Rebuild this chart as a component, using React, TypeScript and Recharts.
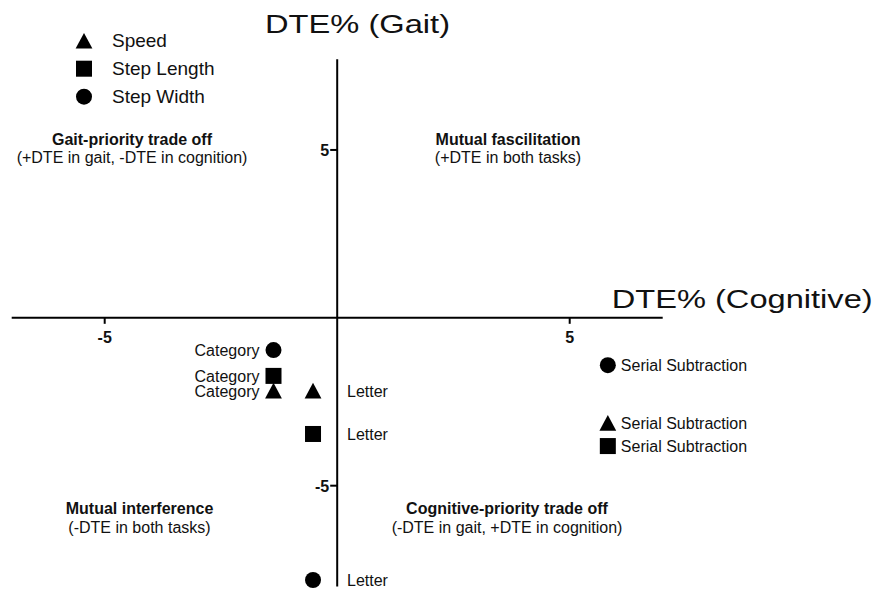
import React from 'react';
import { ScatterChart, Scatter, XAxis, YAxis, ReferenceLine, ReferenceDot } from 'recharts';

// cognitive DTE is the same for every gait measure of a task
const conditions = ['Category', 'Letter', 'Serial Subtraction'];
const cognitiveDTE = [-1.37, -0.52, 5.82];
const speedDTE = [-2.17, -2.17, -3.13];
const stepLengthDTE = [-1.73, -3.46, -3.82];
const stepWidthDTE = [-0.96, -7.81, -1.41];

const xTicks = [-5, 5];
const yTicks = [-5, 5];

const measures = [
  { name: 'Speed', marker: 'triangle', values: speedDTE },
  { name: 'Step Length', marker: 'square', values: stepLengthDTE },
  { name: 'Step Width', marker: 'circle', values: stepWidthDTE },
];

const quadrants = [
  { title: 'Gait-priority trade off', note: '(+DTE in gait, -DTE in cognition)', x: 132, y: 144.5 },
  { title: 'Mutual fascilitation', note: '(+DTE in both tasks)', x: 508, y: 144.5 },
  { title: 'Mutual interference', note: '(-DTE in both tasks)', x: 139.5, y: 514 },
  { title: 'Cognitive-priority trade off', note: '(-DTE in gait, +DTE in cognition)', x: 507, y: 514 },
];

const FONT = '"Liberation Sans", Arial, Helvetica, sans-serif';

// where each task's point label sits relative to the marker
const labelPlace: Record<string, { dx: number; anchor: 'start' | 'end' }> = {
  Category: { dx: -14, anchor: 'end' },
  Letter: { dx: 34, anchor: 'start' },
  'Serial Subtraction': { dx: 13, anchor: 'start' },
};

const Marker = ({ kind, cx, cy }: { kind: string; cx: number; cy: number }) => {
  const h = 8;
  if (kind === 'circle') return <circle cx={cx} cy={cy} r={h} fill="#000" />;
  if (kind === 'square') return <rect x={cx - h} y={cy - h} width={2 * h} height={2 * h} fill="#000" />;
  return <polygon points={`${cx},${cy - 7.8} ${cx + 8.4},${cy + 7.8} ${cx - 8.4},${cy + 7.8}`} fill="#000" />;
};

const makeShape = (kind: string) => (props: any) => {
  const { cx, cy, payload } = props;
  const place = labelPlace[payload.condition];
  return (
    <g>
      <Marker kind={kind} cx={cx} cy={cy} />
      <text x={cx + place.dx} y={cy + 6} textAnchor={place.anchor} fontSize={16} fontFamily={FONT} fill="#111">
        {payload.condition}
      </text>
    </g>
  );
};

const XTick = (v: number) => (props: any) => (
  <g>
    <line x1={props.cx} y1={props.cy} x2={props.cx} y2={props.cy + 6} stroke="#000" strokeWidth={2} />
    <text x={props.cx} y={props.cy + 25} textAnchor="middle" fontSize={16} fontWeight="bold" fontFamily={FONT} fill="#111">
      {v}
    </text>
  </g>
);

const YTick = (v: number) => (props: any) => (
  <g>
    <line x1={props.cx - 7} y1={props.cy} x2={props.cx} y2={props.cy} stroke="#000" strokeWidth={2} />
    <text x={props.cx - 8} y={props.cy + 6} textAnchor="end" fontSize={16} fontWeight="bold" fontFamily={FONT} fill="#111">
      {v}
    </text>
  </g>
);

export default function App() {
  return (
    <div style={{ position: 'absolute', left: 0, top: 0, width: 877, height: 592, background: '#fff' }}>
      <ScatterChart width={877} height={592} margin={{ top: 59.3, right: 214.3, bottom: 5.6, left: 11.7 }}>
        <XAxis type="number" dataKey="x" domain={[-7, 7]} hide />
        <YAxis type="number" dataKey="y" domain={[-8, 7.7]} hide />
        <ReferenceLine y={0} stroke="#000" strokeWidth={2} />
        <ReferenceLine x={0} stroke="#000" strokeWidth={2} />
        {xTicks.map((t) => (
          <ReferenceDot key={'x' + t} x={t} y={0} shape={XTick(t)} />
        ))}
        {yTicks.map((t) => (
          <ReferenceDot key={'y' + t} x={0} y={t} shape={YTick(t)} />
        ))}
        {measures.map((m) => (
          <Scatter
            key={m.name}
            name={m.name}
            data={conditions.map((c, i) => ({ x: cognitiveDTE[i], y: m.values[i], condition: c }))}
            shape={makeShape(m.marker)}
            isAnimationActive={false}
          />
        ))}
      </ScatterChart>
      <svg width={877} height={592} style={{ position: 'absolute', left: 0, top: 0, pointerEvents: 'none' }}>
        <g fontFamily={FONT} fill="#111">
          <text x={265} y={33.3} fontSize={26} textLength={185} lengthAdjust="spacingAndGlyphs">
            DTE% (Gait)
          </text>
          <text x={611.7} y={308.3} fontSize={26} textLength={261} lengthAdjust="spacingAndGlyphs">
            DTE% (Cognitive)
          </text>
          {quadrants.map((q) => (
            <g key={q.title}>
              <text x={q.x} y={q.y} textAnchor="middle" fontSize={16} fontWeight="bold">
                {q.title}
              </text>
              <text x={q.x} y={q.y + 18.5} textAnchor="middle" fontSize={16}>
                {q.note}
              </text>
            </g>
          ))}
          {measures.map((m, i) => (
            <g key={m.name}>
              <Marker kind={m.marker} cx={84} cy={40.7 + i * 28} />
              <text x={112} y={46.7 + i * 28} fontSize={19}>
                {m.name}
              </text>
            </g>
          ))}
        </g>
      </svg>
    </div>
  );
}
